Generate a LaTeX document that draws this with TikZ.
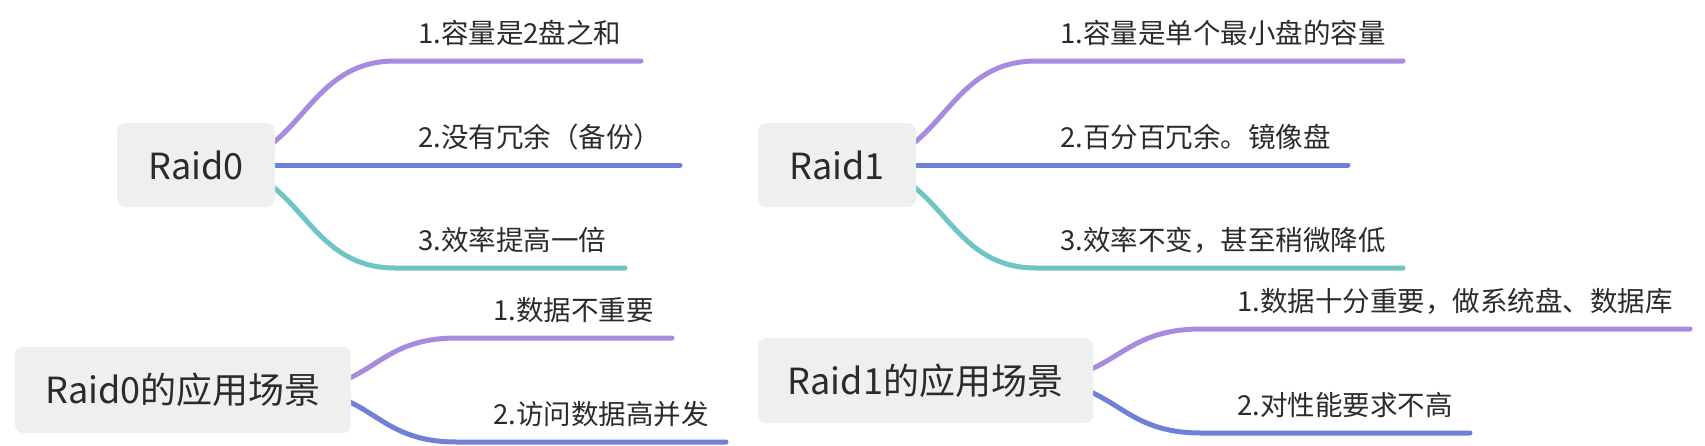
\documentclass[tikz,border=0pt]{standalone}
\usepackage{fontspec}
\setmainfont{Noto Sans CJK SC}
\usetikzlibrary{backgrounds}
\definecolor{cpurple}{HTML}{A78BE0}
\definecolor{cblue}{HTML}{7080D8}
\definecolor{cteal}{HTML}{6EC5C4}
\definecolor{boxfill}{HTML}{EEF0F0}
\definecolor{txt}{HTML}{2B2B2B}
\begin{document}
\begin{tikzpicture}[x=1pt,y=-1pt,
  topic/.style={fill=boxfill, rounded corners=8pt, text=txt, font=\fontsize{36}{40}\selectfont, inner sep=0pt, align=center},
  leaf/.style={anchor=west, inner sep=0pt, text=txt, font=\fontsize{27.5}{30}\selectfont},
  branch/.style={line width=5pt, line cap=round},
]
\useasboundingbox (0,0) rectangle (1705,445);

% topics
\node[topic, minimum width=158pt, minimum height=84pt] (r0) at (196,165) {Raid0};
\node[topic, minimum width=158pt, minimum height=84pt] (r1) at (837,165) {Raid1};
\node[topic, minimum width=336pt, minimum height=86pt] (a0) at (183,390) {Raid0的应用场景};
\node[topic, minimum width=335pt, minimum height=85pt] (a1) at (925.5,380.5) {Raid1的应用场景};

% leaves
\node[leaf] (r0l1) at (418,33) {1.容量是2盘之和};
\node[leaf] (r0l2) at (418,137) {2.没有冗余（备份）};
\node[leaf] (r0l3) at (418,240) {3.效率提高一倍};
\node[leaf] (r1l1) at (1060,33) {1.容量是单个最小盘的容量};
\node[leaf] (r1l2) at (1060,137) {2.百分百冗余。镜像盘};
\node[leaf] (r1l3) at (1060,240) {3.效率不变，甚至稍微降低};
\node[leaf] (a0l1) at (493,310) {1.数据不重要};
\node[leaf] (a0l2) at (493,414) {2.访问数据高并发};
\node[leaf] (a1l1) at (1237,301) {1.数据十分重要，做系统盘、数据库};
\node[leaf] (a1l2) at (1237,405) {2.对性能要求不高};

% line coordinates
\coordinate (r0s1) at (395,61);  \coordinate (r0e1) at (641,61);
\coordinate (r0e2) at (680,165);
\coordinate (r0s3) at (395,268); \coordinate (r0e3) at (625,268);
\coordinate (r1s1) at (1036,61);  \coordinate (r1e1) at (1403,61);
\coordinate (r1e2) at (1348,165);
\coordinate (r1s3) at (1036,268); \coordinate (r1e3) at (1403,268);
\coordinate (a0s1) at (457,338); \coordinate (a0e1) at (672,338);
\coordinate (a0s2) at (457,442); \coordinate (a0e2) at (726,442);
\coordinate (a1s1) at (1201,329); \coordinate (a1e1) at (1690,329);
\coordinate (a1s2) at (1201,433); \coordinate (a1e2) at (1470,433);

\begin{pgfonlayer}{background}
\draw[branch, cpurple] ([xshift=-65pt]r0.east) .. controls +(92.5,0) and +(-92.5,0) .. (r0s1) -- (r0e1);
\draw[branch, cblue] (r0.center) -- (r0e2);
\draw[branch, cteal] ([xshift=-65pt]r0.east) .. controls +(92.5,0) and +(-92.5,0) .. (r0s3) -- (r0e3);
\draw[branch, cpurple] ([xshift=-65pt]r1.east) .. controls +(92.5,0) and +(-92.5,0) .. (r1s1) -- (r1e1);
\draw[branch, cblue] (r1.center) -- (r1e2);
\draw[branch, cteal] ([xshift=-65pt]r1.east) .. controls +(92.5,0) and +(-92.5,0) .. (r1s3) -- (r1e3);
\draw[branch, cpurple] ([xshift=-60pt]a0.east) .. controls +(84,0) and +(-84,0) .. (a0s1) -- (a0e1);
\draw[branch, cblue] ([xshift=-60pt]a0.east) .. controls +(84,0) and +(-84,0) .. (a0s2) -- (a0e2);
\draw[branch, cpurple] ([xshift=-60pt]a1.east) .. controls +(84,0) and +(-84,0) .. (a1s1) -- (a1e1);
\draw[branch, cblue] ([xshift=-60pt]a1.east) .. controls +(84,0) and +(-84,0) .. (a1s2) -- (a1e2);
\end{pgfonlayer}
\end{tikzpicture}
\end{document}
